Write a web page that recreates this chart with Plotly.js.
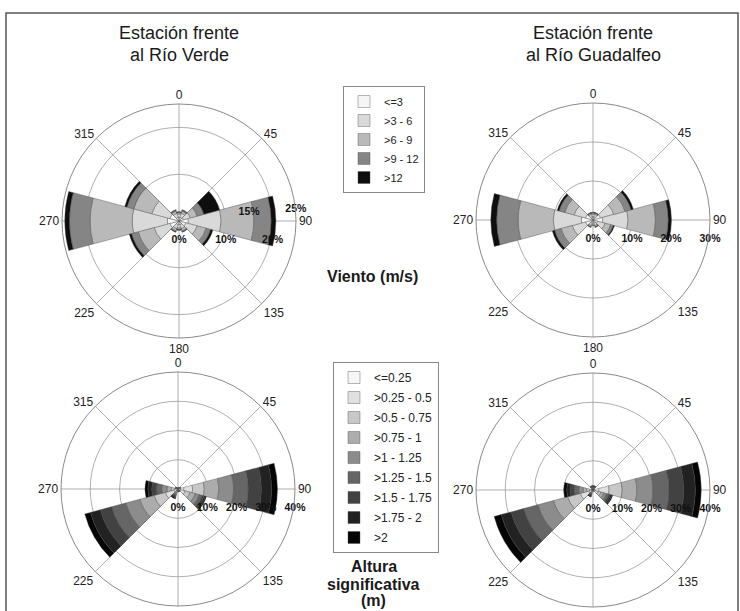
<!DOCTYPE html>
<html>
<head>
<meta charset="utf-8">
<script src="https://cdn.plot.ly/plotly-3.0.1.min.js"></script>
<style>html,body{margin:0;padding:0;background:#fff;}#chart{width:740px;height:611px;}</style>
</head>
<body>
<div id="chart"></div>
<script>
// ---------- DATA ----------
const directions = [0, 30, 60, 90, 120, 150, 180, 210, 240, 270, 300, 330];

const windClasses = ['&lt;=3', '&gt;3 - 6', '&gt;6 - 9', '&gt;9 - 12', '&gt;12'];
const waveClasses = ['&lt;=0.25', '&gt;0.25 - 0.5', '&gt;0.5 - 0.75', '&gt;0.75 - 1', '&gt;1 - 1.25',
                     '&gt;1.25 - 1.5', '&gt;1.5 - 1.75', '&gt;1.75 - 2', '&gt;2'];

// Wind frequency (%) per speed class, station Río Verde
const verdeWind = [
  [0.8, 0.8, 1.0, 2.0, 1.5, 0.8, 0.8, 0.8, 2.0, 2.5, 2.0, 0.8],
  [0.7, 0.9, 1.5, 7.0, 2.5, 0.9, 0.7, 0.9, 3.5, 7.5, 4.0, 0.9],
  [0.3, 0.5, 1.5, 7.0, 2.0, 0.5, 0.3, 0.5, 3.5, 9.0, 4.0, 0.5],
  [0.1, 0.2, 1.5, 3.7, 1.0, 0.2, 0.1, 0.2, 1.5, 4.4, 1.5, 0.2],
  [0.1, 0.1, 3.5, 1.0, 0.5, 0.1, 0.1, 0.1, 0.5, 1.0, 0.5, 0.1]
];
// Wind frequency (%) per speed class, station Río Guadalfeo
const guadalfeoWind = [
  [0.8, 0.8, 2.0, 2.5, 1.2, 0.8, 0.6, 0.8, 2.0, 3.0, 2.0, 0.8],
  [0.7, 0.7, 3.5, 6.5, 2.0, 0.7, 0.5, 0.7, 3.5, 7.2, 3.0, 0.7],
  [0.3, 0.3, 3.0, 7.0, 1.5, 0.3, 0.3, 0.3, 3.0, 9.0, 2.5, 0.3],
  [0.1, 0.1, 1.6, 3.3, 0.7, 0.1, 0.1, 0.1, 1.7, 5.5, 1.5, 0.1],
  [0.1, 0.1, 0.6, 0.8, 0.3, 0.1, 0.0, 0.1, 0.6, 1.5, 0.5, 0.1]
];
// Significant wave height frequency (%) per class, station Río Verde
const verdeWave = [
  [0.1, 0.1, 0.2, 2.0, 1.0, 0.2, 0.2, 0.2, 1.5, 0.5, 0.2, 0.1],
  [0.1, 0.1, 0.2, 3.0, 1.5, 0.2, 0.2, 0.3, 3.0, 0.8, 0.2, 0.1],
  [0.1, 0.1, 0.2, 4.0, 1.8, 0.2, 0.2, 0.4, 4.0, 1.0, 0.2, 0.1],
  [0.1, 0.1, 0.1, 5.0, 1.8, 0.1, 0.1, 0.5, 5.0, 1.5, 0.1, 0.1],
  [0.1, 0.1, 0.1, 5.0, 1.4, 0.1, 0.1, 0.5, 5.0, 1.8, 0.1, 0.1],
  [0.0, 0.0, 0.1, 5.0, 1.0, 0.1, 0.1, 0.5, 5.0, 1.8, 0.1, 0.0],
  [0.0, 0.0, 0.1, 4.5, 0.7, 0.1, 0.1, 0.4, 4.0, 1.6, 0.1, 0.0],
  [0.0, 0.0, 0.0, 3.5, 0.5, 0.0, 0.0, 0.4, 3.5, 1.3, 0.0, 0.0],
  [0.0, 0.0, 0.0, 2.0, 0.3, 0.0, 0.0, 0.3, 2.0, 1.0, 0.0, 0.0]
];
// Significant wave height frequency (%) per class, station Río Guadalfeo
const guadalfeoWave = [
  [0.2, 0.2, 0.1, 2.0, 0.8, 0.1, 0.1, 0.2, 1.5, 0.5, 0.1, 0.2],
  [0.2, 0.2, 0.1, 3.5, 1.0, 0.1, 0.1, 0.2, 3.0, 0.7, 0.1, 0.2],
  [0.2, 0.2, 0.1, 4.5, 1.0, 0.1, 0.1, 0.3, 4.5, 1.0, 0.1, 0.2],
  [0.2, 0.2, 0.1, 5.0, 1.0, 0.1, 0.1, 0.3, 5.0, 1.2, 0.1, 0.2],
  [0.2, 0.2, 0.1, 5.5, 1.0, 0.1, 0.0, 0.3, 5.5, 1.5, 0.1, 0.2],
  [0.2, 0.2, 0.0, 5.5, 0.8, 0.0, 0.0, 0.3, 5.0, 1.5, 0.0, 0.2],
  [0.2, 0.2, 0.0, 5.0, 0.6, 0.0, 0.0, 0.3, 4.5, 1.4, 0.0, 0.2],
  [0.1, 0.1, 0.0, 4.0, 0.5, 0.0, 0.0, 0.3, 3.5, 1.2, 0.0, 0.1],
  [0.0, 0.0, 0.0, 2.0, 0.3, 0.0, 0.0, 0.3, 2.5, 1.0, 0.0, 0.0]
];

const angleTicks = [0, 45, 90, 135, 180, 225, 270, 315];
const angleLabelsTop = ['0', '45', '90', '135', '180', '225', '270', '315'];
const angleLabelsBottom = ['0', '45', '90', '135', '', '225', '270', '315'];

const verdeWindRing = [0, 10, 15, 20, 25];
const guadalfeoWindRing = [0, 10, 20, 30];
const waveRing = [0, 10, 20, 30, 40];

// ---------- STYLE ----------
const FONT = 'Liberation Sans, Arial, Helvetica, sans-serif';
const windColors = ['#f5f5f5', '#d9d9d9', '#b9b9b9', '#858585', '#0e0e0e'];
const waveColors = ['#f6f6f6', '#e0e0e0', '#c8c8c8', '#acacac', '#8c8c8c', '#666666', '#424242', '#222222', '#050505'];

const traces = [];
function addRose(polarId, data, names, colors, legendId, showLegend) {
  data.forEach((vals, i) => {
    traces.push({
      type: 'barpolar',
      subplot: polarId,
      r: vals,
      theta: directions,
      name: names[i],
      legend: legendId,
      legendgroup: legendId + '_' + i,
      showlegend: showLegend,
      marker: {color: colors[i], line: {color: '#4a4a4a', width: 0.4}},
      hoverinfo: 'r+theta+name'
    });
  });
}
addRose('polar', verdeWind, windClasses, windColors, 'legend', true);
addRose('polar2', guadalfeoWind, windClasses, windColors, 'legend', false);
addRose('polar3', verdeWave, waveClasses, waveColors, 'legend2', true);
addRose('polar4', guadalfeoWave, waveClasses, waveColors, 'legend2', false);

// ring value labels: 'below' labels get an empty first line to sit lower;
// 'above' labels are placed a little counter-clockwise of east so they sit higher
function ringLabels(polarId, rings, above) {
  traces.push({
    type: 'scatterpolar',
    subplot: polarId,
    mode: 'text',
    r: rings,
    theta: rings.map((v, i) => above[i] ? 87 : 90),
    text: rings.map((v, i) => above[i] ? '<b>' + v + '%</b>' : '<br><b>' + v + '%</b>'),
    textposition: rings.map((v, i) => above[i] ? 'top center' : 'bottom center'),
    textfont: {family: FONT, size: 10.5, color: '#111'},
    showlegend: false,
    hoverinfo: 'skip',
    cliponaxis: false
  });
}
ringLabels('polar', verdeWindRing, [false, false, true, false, true]);
ringLabels('polar2', guadalfeoWindRing, [false, false, false, false]);
ringLabels('polar3', waveRing, [false, false, false, false, false]);
ringLabels('polar4', waveRing, [false, false, false, false, false]);

function polarLayout(xd, yd, rmax, gridVals, labels) {
  return {
    domain: {x: xd, y: yd},
    bgcolor: 'rgba(0,0,0,0)',
    barmode: 'stack',
    bargap: 0,
    radialaxis: {
      range: [0, rmax], tickmode: 'array', tickvals: gridVals,
      showticklabels: false, ticks: '', showline: false,
      gridcolor: '#9a9a9a', gridwidth: 0.8
    },
    angularaxis: {
      rotation: 90, direction: 'clockwise',
      tickmode: 'array', tickvals: angleTicks, ticktext: labels,
      ticks: '', showline: true, linecolor: '#8a8a8a', linewidth: 1,
      gridcolor: '#9a9a9a', gridwidth: 0.8,
      tickfont: {family: FONT, size: 12, color: '#222'}
    }
  };
}

function note(text, xpx, ypx, size) {
  return {text: text, x: xpx / 740, y: 1 - ypx / 611, xref: 'paper', yref: 'paper',
          xanchor: 'center', yanchor: 'middle', showarrow: false,
          font: {family: FONT, size: size, color: '#1a1a1a'}};
}

const layout = {
  width: 740, height: 611,
  margin: {l: 0, r: 0, t: 0, b: 0},
  paper_bgcolor: '#fff',
  font: {family: FONT, color: '#222'},
  polar: polarLayout([62/740, 296/740], [273/611, 507/611], 25, [10, 20], angleLabelsTop),
  polar2: polarLayout([476/740, 710/740], [274/611, 508/611], 30, [10, 20], angleLabelsTop),
  polar3: polarLayout([61/740, 295/740], [5/611, 239/611], 40, [10, 20, 30], angleLabelsBottom),
  polar4: polarLayout([476/740, 710/740], [4/611, 238/611], 40, [10, 20, 30], angleLabelsBottom),
  legend: {
    x: 343/740, y: 1 - 86/611, xanchor: 'left', yanchor: 'top',
    bgcolor: '#fff', bordercolor: '#888', borderwidth: 1,
    font: {family: FONT, size: 11, color: '#222'},
    traceorder: 'grouped', itemwidth: 30, tracegroupgap: 0
  },
  legend2: {
    x: 333/740, y: 1 - 362/611, xanchor: 'left', yanchor: 'top',
    bgcolor: '#fff', bordercolor: '#888', borderwidth: 1,
    font: {family: FONT, size: 12, color: '#222'},
    traceorder: 'grouped', itemwidth: 30, tracegroupgap: 1
  },
  annotations: [
    note('Estación frente', 179, 33, 18),
    note('al Río Verde', 179, 55, 18),
    note('Estación frente', 593, 33, 18),
    note('al Río Guadalfeo', 593, 55, 18),
    note('<b>Viento (m/s)</b>', 372, 276, 16),
    note('<b>Altura</b>', 374, 566, 16),
    note('<b>significativa</b>', 374, 584, 16),
    note('<b>(m)</b>', 374, 600, 16)
  ],
  shapes: [
    {type: 'rect', xref: 'paper', yref: 'paper', x0: 6/740, x1: 738/740, y0: -0.02, y1: 1 - 13/611,
     line: {color: '#555', width: 1.5}, fillcolor: 'rgba(0,0,0,0)', layer: 'below'}
  ]
};

Plotly.newPlot('chart', traces, layout, {displayModeBar: false, staticPlot: true});
</script>
</body>
</html>
